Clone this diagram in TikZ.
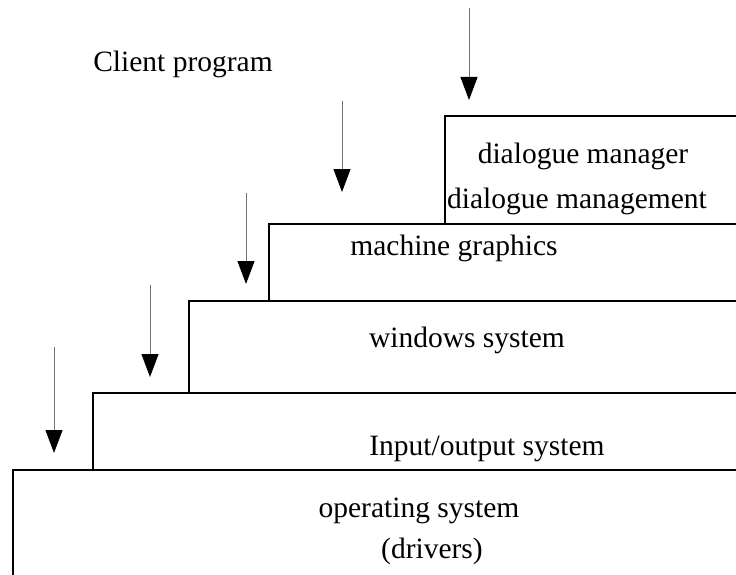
\documentclass[tikz,border=0pt]{standalone}
\usepackage{fontspec}
\setmainfont{Liberation Serif}
\usepackage{tikz}
\usetikzlibrary{arrows.meta}

\tikzset{
  stepline/.style={black, line width=2pt},
  downarrow/.style={draw=black!55, line width=1pt, -{Triangle[length=23pt,width=17pt,color=black]}},
  lbl/.style={anchor=base, inner sep=0pt, font=\fontsize{29.5}{35}\selectfont}
}

\begin{document}
\begin{tikzpicture}[x=1pt,y=-1pt]
		\useasboundingbox (0,0) rectangle (736,575);

            % steps
            \coordinate (os) at (13,470);
            \coordinate (io) at (93,393);
            \coordinate (ws) at (189,301);
            \coordinate (mg) at (269,224);
            \coordinate (dm) at (445,116);
            \draw [stepline] (13,575) -- (os) -- (736,470);
            \draw [stepline] (93,470) -- (io) -- (736,393);
            \draw [stepline] (189,393) -- (ws) -- (736,301);
            \draw [stepline] (269,301) -- (mg) -- (736,224);
            \draw [stepline] (445,224) -- (dm) -- (736,116);

            % label
            \node [lbl] (client) at (183,72) {Client program};
            \node [lbl] (dm1) at (583,163) {dialogue manager};
            \node [lbl] (dm2) at (577,208) {dialogue management};
            \node [lbl] (mgl) at (454,255) {machine graphics};
            \node [lbl] (wsl) at (467,347) {windows system};
            \node [lbl] (iol) at (487,455) {Input/output system};
            \node [lbl] (osl) at (419,517) {operating system};
            \node [lbl] (drv) at (432,558) {(drivers)};

            % arrows
            \coordinate (a1) at (54,347);   \coordinate (t1) at (54,453);
            \coordinate (a2) at (150,285);  \coordinate (t2) at (150,377);
            \coordinate (a3) at (246,193);  \coordinate (t3) at (246,284);
            \coordinate (a4) at (342,101);  \coordinate (t4) at (342,192);
            \coordinate (a5) at (469,8);    \coordinate (t5) at (469,100);
            \draw [downarrow] (a1) -- (t1);
            \draw [downarrow] (a2) -- (t2);
            \draw [downarrow] (a3) -- (t3);
            \draw [downarrow] (a4) -- (t4);
            \draw [downarrow] (a5) -- (t5);
\end{tikzpicture}
\end{document}
